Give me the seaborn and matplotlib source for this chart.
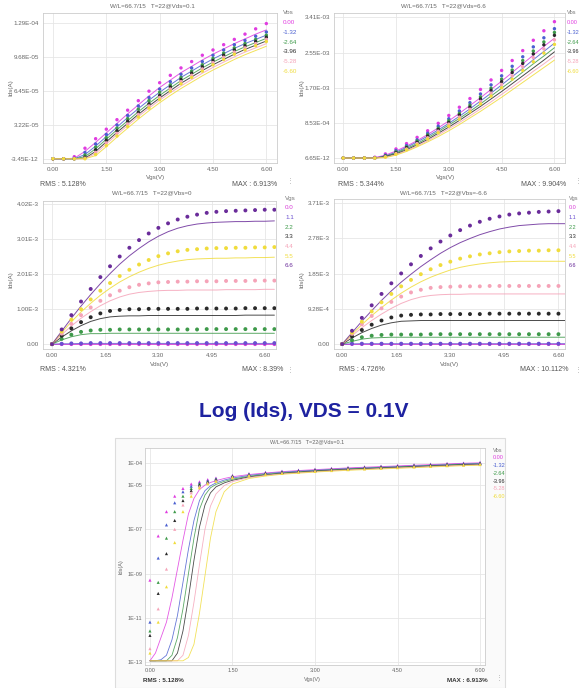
import numpy as np
import pandas as pd
import matplotlib.pyplot as plt
from matplotlib.patches import Rectangle
import seaborn as sns

sns.set_style("white")
plt.rcParams['font.family'] = ['Liberation Sans', 'DejaVu Sans']

W, H = 582, 688

# ---- legends / colours ----
VBS_LABELS = ["0.00", "-1.32", "-2.64", "-3.96", "-5.28", "-6.60"]
VGS_LABELS = ["0.0", "1.1", "2.2", "3.3", "4.4", "5.5", "6.6"]
VBS_COLORS = ['#e03ce0', '#4a5fd0', '#3e9a4a', '#2a2a2a', '#f5a3b8', '#f0dc3c']
VGS_COLORS = ['#d83cd8', '#6a4fd0', '#3e9a4a', '#2a2a2a', '#f5a3b8', '#f0dc3c', '#6a2c9a']

# ---- panel 1 : Ids-Vgs, Vds=0.1 (x1e-5 A) ----
P1_VGS = [0.0, 0.3, 0.6, 0.9, 1.2, 1.5, 1.8, 2.1, 2.4, 2.7, 3.0,
          3.3, 3.6, 3.9, 4.2, 4.5, 4.8, 5.1, 5.4, 5.7, 6.0]
P1_MEAS = [
    [0, 0, 0.2, 1.0, 1.9, 2.8, 3.7, 4.6, 5.5, 6.4, 7.2, 7.9, 8.6, 9.2, 9.8, 10.3, 10.8, 11.3, 11.8, 12.3, 12.8],
    [0, 0, 0.05, 0.6, 1.4, 2.3, 3.2, 4.1, 5.0, 5.8, 6.6, 7.3, 8.0, 8.6, 9.2, 9.8, 10.3, 10.8, 11.2, 11.6, 12.0],
    [0, 0, 0, 0.35, 1.1, 2.0, 2.9, 3.8, 4.7, 5.5, 6.3, 7.0, 7.7, 8.3, 8.9, 9.5, 10.0, 10.5, 10.9, 11.3, 11.7],
    [0, 0, 0, 0.15, 0.85, 1.75, 2.65, 3.55, 4.4, 5.2, 6.0, 6.8, 7.5, 8.1, 8.7, 9.3, 9.8, 10.3, 10.7, 11.1, 11.5],
    [0, 0, 0, 0.05, 0.6, 1.5, 2.4, 3.3, 4.2, 5.0, 5.8, 6.6, 7.3, 7.9, 8.5, 9.1, 9.6, 10.1, 10.5, 10.9, 11.3],
    [0, 0, 0, 0, 0.4, 1.25, 2.15, 3.05, 3.95, 4.8, 5.6, 6.4, 7.1, 7.7, 8.3, 8.9, 9.4, 9.9, 10.3, 10.7, 11.1],
]
P1_SIM = [
    [0, 0, 0.05, 0.7, 1.55, 2.45, 3.35, 4.25, 5.1, 5.95, 6.75, 7.45, 8.15, 8.75, 9.35, 9.9, 10.4, 10.9, 11.35, 11.8, 12.2],
    [0, 0, 0, 0.4, 1.2, 2.1, 3.0, 3.9, 4.75, 5.55, 6.3, 7.0, 7.7, 8.3, 8.9, 9.45, 9.95, 10.45, 10.9, 11.3, 11.7],
    [0, 0, 0, 0.2, 0.95, 1.85, 2.75, 3.6, 4.45, 5.25, 6.0, 6.7, 7.4, 8.0, 8.6, 9.15, 9.65, 10.15, 10.6, 11.0, 11.4],
    [0, 0, 0, 0.05, 0.7, 1.6, 2.5, 3.35, 4.2, 5.0, 5.75, 6.45, 7.15, 7.75, 8.35, 8.9, 9.4, 9.9, 10.35, 10.75, 11.15],
    [0, 0, 0, 0, 0.5, 1.4, 2.3, 3.15, 4.0, 4.8, 5.55, 6.25, 6.9, 7.5, 8.1, 8.65, 9.15, 9.65, 10.1, 10.5, 10.9],
    [0, 0, 0, 0, 0.3, 1.15, 2.05, 2.9, 3.75, 4.55, 5.3, 6.0, 6.65, 7.25, 7.85, 8.4, 8.9, 9.4, 9.85, 10.25, 10.65],
]
P1_YTICKS = [-3.45e-12, 3.22e-5, 6.45e-5, 9.68e-5, 1.29e-4]
P1_YLABELS = ["-3.45E-12", "3.22E-05", "6.45E-05", "9.68E-05", "1.29E-04"]

# ---- panel 2 : Ids-Vgs, Vds=6.6 (x1e-3 A) ----
P2_VGS = P1_VGS
P2_MEAS = [
    [0, 0, 0, 0.02, 0.1, 0.22, 0.35, 0.5, 0.66, 0.84, 1.03, 1.23, 1.44, 1.66, 1.89, 2.12, 2.36, 2.6, 2.85, 3.08, 3.3],
    [0, 0, 0, 0.01, 0.07, 0.18, 0.3, 0.44, 0.6, 0.77, 0.95, 1.14, 1.34, 1.55, 1.77, 1.99, 2.22, 2.45, 2.69, 2.91, 3.13],
    [0, 0, 0, 0, 0.05, 0.15, 0.27, 0.41, 0.56, 0.72, 0.9, 1.08, 1.28, 1.48, 1.69, 1.91, 2.13, 2.36, 2.59, 2.81, 3.04],
    [0, 0, 0, 0, 0.04, 0.13, 0.25, 0.38, 0.53, 0.69, 0.86, 1.04, 1.23, 1.43, 1.64, 1.85, 2.07, 2.29, 2.52, 2.74, 2.97],
    [0, 0, 0, 0, 0.03, 0.11, 0.22, 0.35, 0.49, 0.65, 0.82, 0.99, 1.18, 1.37, 1.57, 1.78, 1.99, 2.21, 2.43, 2.64, 2.86],
    [0, 0, 0, 0, 0.02, 0.09, 0.2, 0.32, 0.46, 0.61, 0.77, 0.94, 1.12, 1.31, 1.5, 1.7, 1.91, 2.12, 2.33, 2.54, 2.75],
]
P2_SIM = [
    [0, 0, 0, 0.01, 0.07, 0.17, 0.29, 0.42, 0.57, 0.73, 0.9, 1.08, 1.27, 1.46, 1.66, 1.86, 2.07, 2.28, 2.49, 2.7, 2.9],
    [0, 0, 0, 0, 0.05, 0.14, 0.26, 0.39, 0.53, 0.68, 0.84, 1.01, 1.19, 1.38, 1.57, 1.77, 1.97, 2.17, 2.38, 2.58, 2.78],
    [0, 0, 0, 0, 0.04, 0.12, 0.23, 0.35, 0.49, 0.64, 0.8, 0.96, 1.13, 1.31, 1.5, 1.69, 1.88, 2.08, 2.28, 2.47, 2.67],
    [0, 0, 0, 0, 0.03, 0.1, 0.2, 0.32, 0.45, 0.6, 0.75, 0.91, 1.08, 1.25, 1.43, 1.61, 1.8, 1.99, 2.18, 2.37, 2.57],
    [0, 0, 0, 0, 0.02, 0.08, 0.18, 0.29, 0.42, 0.56, 0.71, 0.86, 1.02, 1.19, 1.36, 1.54, 1.72, 1.91, 2.1, 2.28, 2.47],
    [0, 0, 0, 0, 0.01, 0.07, 0.16, 0.27, 0.39, 0.52, 0.66, 0.81, 0.97, 1.13, 1.3, 1.47, 1.65, 1.83, 2.01, 2.19, 2.37],
]
P2_YTICKS = [6.65e-12, 8.53e-4, 1.70e-3, 2.55e-3, 3.41e-3]
P2_YLABELS = ["6.65E-12", "8.53E-04", "1.70E-03", "2.55E-03", "3.41E-03"]

# ---- panel 3 : Ids-Vds, Vbs=0 (x1e-3 A) ----
P3_VDS = [0.0, 0.3, 0.6, 0.9, 1.2, 1.5, 1.8, 2.1, 2.4, 2.7, 3.0, 3.3,
          3.6, 3.9, 4.2, 4.5, 4.8, 5.1, 5.4, 5.7, 6.0, 6.3, 6.6, 6.9]
P3_MEAS = [
    [0, 0, 0, 0, 0, 0, 0, 0, 0, 0, 0, 0, 0, 0, 0, 0, 0, 0, 0, 0, 0, 0, 0, 0],
    [0, 0.01, 0.02, 0.02, 0.03, 0.03, 0.03, 0.03, 0.03, 0.03, 0.03, 0.03, 0.03, 0.03, 0.03, 0.03, 0.03, 0.03, 0.03, 0.03, 0.03, 0.03, 0.03, 0.03],
    [0, 0.15, 0.27, 0.35, 0.39, 0.41, 0.41, 0.42, 0.42, 0.42, 0.42, 0.42, 0.42, 0.42, 0.42, 0.42, 0.43, 0.43, 0.43, 0.43, 0.43, 0.43, 0.43, 0.43],
    [0, 0.24, 0.45, 0.63, 0.77, 0.88, 0.95, 0.98, 1.0, 1.0, 1.01, 1.01, 1.01, 1.01, 1.01, 1.02, 1.02, 1.02, 1.02, 1.02, 1.03, 1.03, 1.03, 1.03],
    [0, 0.3, 0.58, 0.83, 1.05, 1.24, 1.4, 1.53, 1.63, 1.7, 1.74, 1.77, 1.78, 1.79, 1.79, 1.8, 1.8, 1.8, 1.81, 1.81, 1.81, 1.82, 1.82, 1.82],
    [0, 0.36, 0.7, 1.0, 1.28, 1.53, 1.75, 1.95, 2.13, 2.28, 2.41, 2.52, 2.6, 2.66, 2.7, 2.72, 2.74, 2.75, 2.75, 2.76, 2.76, 2.77, 2.77, 2.78],
    [0, 0.42, 0.83, 1.22, 1.58, 1.92, 2.23, 2.51, 2.76, 2.98, 3.17, 3.33, 3.46, 3.57, 3.65, 3.71, 3.76, 3.79, 3.81, 3.82, 3.83, 3.84, 3.85, 3.85],
]
P3_SIM = [
    [0, 0, 0, 0, 0, 0, 0, 0, 0, 0, 0, 0, 0, 0, 0, 0, 0, 0, 0, 0, 0, 0, 0, 0],
    [0, 0.01, 0.01, 0.02, 0.02, 0.02, 0.02, 0.02, 0.02, 0.02, 0.02, 0.02, 0.02, 0.02, 0.02, 0.02, 0.02, 0.02, 0.02, 0.02, 0.02, 0.02, 0.02, 0.02],
    [0, 0.12, 0.21, 0.27, 0.3, 0.3, 0.31, 0.31, 0.31, 0.31, 0.31, 0.31, 0.31, 0.31, 0.31, 0.31, 0.31, 0.31, 0.31, 0.31, 0.31, 0.31, 0.31, 0.31],
    [0, 0.2, 0.38, 0.53, 0.65, 0.73, 0.78, 0.8, 0.81, 0.81, 0.82, 0.82, 0.82, 0.82, 0.82, 0.82, 0.82, 0.82, 0.82, 0.82, 0.83, 0.83, 0.83, 0.83],
    [0, 0.27, 0.52, 0.74, 0.93, 1.1, 1.24, 1.35, 1.43, 1.48, 1.51, 1.53, 1.54, 1.54, 1.55, 1.55, 1.55, 1.55, 1.56, 1.56, 1.56, 1.56, 1.57, 1.57],
    [0, 0.33, 0.64, 0.92, 1.17, 1.4, 1.6, 1.78, 1.93, 2.06, 2.17, 2.26, 2.33, 2.38, 2.42, 2.44, 2.45, 2.46, 2.46, 2.47, 2.47, 2.48, 2.48, 2.49],
    [0, 0.37, 0.74, 1.09, 1.42, 1.73, 2.02, 2.29, 2.53, 2.74, 2.93, 3.09, 3.22, 3.32, 3.39, 3.44, 3.47, 3.49, 3.5, 3.51, 3.51, 3.52, 3.52, 3.53],
]
P3_YTICKS = [0.0, 1.005e-3, 2.01e-3, 3.015e-3, 4.02e-3]
P3_YLABELS = ["0.00", "1.00E-3", "2.01E-3", "3.01E-3", "4.02E-3"]

# ---- panel 4 : Ids-Vds, Vbs=-6.6 (x1e-3 A) ----
P4_VDS = P3_VDS
P4_MEAS = [
    [0, 0, 0, 0, 0, 0, 0, 0, 0, 0, 0, 0, 0, 0, 0, 0, 0, 0, 0, 0, 0, 0, 0, 0],
    [0, 0.01, 0.01, 0.01, 0.01, 0.01, 0.01, 0.01, 0.01, 0.01, 0.01, 0.01, 0.01, 0.01, 0.01, 0.01, 0.01, 0.01, 0.01, 0.01, 0.01, 0.01, 0.01, 0.01],
    [0, 0.1, 0.18, 0.22, 0.24, 0.25, 0.25, 0.25, 0.25, 0.26, 0.26, 0.26, 0.26, 0.26, 0.26, 0.26, 0.26, 0.26, 0.26, 0.26, 0.26, 0.26, 0.26, 0.26],
    [0, 0.2, 0.37, 0.51, 0.62, 0.7, 0.75, 0.77, 0.78, 0.78, 0.79, 0.79, 0.79, 0.79, 0.79, 0.8, 0.8, 0.8, 0.8, 0.8, 0.8, 0.8, 0.8, 0.8],
    [0, 0.27, 0.52, 0.74, 0.94, 1.11, 1.25, 1.36, 1.43, 1.48, 1.5, 1.51, 1.52, 1.52, 1.52, 1.53, 1.53, 1.53, 1.53, 1.53, 1.53, 1.53, 1.53, 1.53],
    [0, 0.3, 0.59, 0.86, 1.1, 1.32, 1.52, 1.69, 1.84, 1.97, 2.08, 2.17, 2.25, 2.31, 2.36, 2.39, 2.42, 2.44, 2.45, 2.46, 2.46, 2.47, 2.47, 2.47],
    [0, 0.35, 0.69, 1.02, 1.32, 1.6, 1.86, 2.1, 2.32, 2.52, 2.7, 2.86, 3.0, 3.12, 3.22, 3.3, 3.36, 3.41, 3.44, 3.46, 3.48, 3.49, 3.5, 3.51],
]
P4_SIM = [
    [0, 0, 0, 0, 0, 0, 0, 0, 0, 0, 0, 0, 0, 0, 0, 0, 0, 0, 0, 0, 0, 0, 0, 0],
    [0, 0.005, 0.01, 0.01, 0.01, 0.01, 0.01, 0.01, 0.01, 0.01, 0.01, 0.01, 0.01, 0.01, 0.01, 0.01, 0.01, 0.01, 0.01, 0.01, 0.01, 0.01, 0.01, 0.01],
    [0, 0.07, 0.13, 0.16, 0.17, 0.18, 0.18, 0.18, 0.18, 0.18, 0.18, 0.18, 0.18, 0.18, 0.18, 0.18, 0.18, 0.18, 0.18, 0.18, 0.18, 0.18, 0.18, 0.18],
    [0, 0.16, 0.3, 0.41, 0.5, 0.56, 0.6, 0.61, 0.62, 0.62, 0.62, 0.62, 0.62, 0.62, 0.62, 0.62, 0.62, 0.62, 0.62, 0.62, 0.62, 0.62, 0.62, 0.62],
    [0, 0.22, 0.43, 0.62, 0.79, 0.94, 1.07, 1.17, 1.24, 1.28, 1.3, 1.31, 1.31, 1.32, 1.32, 1.32, 1.32, 1.32, 1.32, 1.32, 1.32, 1.32, 1.32, 1.32],
    [0, 0.26, 0.51, 0.75, 0.96, 1.16, 1.34, 1.5, 1.64, 1.76, 1.86, 1.95, 2.02, 2.07, 2.11, 2.14, 2.16, 2.17, 2.18, 2.18, 2.18, 2.18, 2.18, 2.18],
    [0, 0.3, 0.6, 0.88, 1.15, 1.4, 1.63, 1.84, 2.04, 2.22, 2.39, 2.54, 2.67, 2.78, 2.88, 2.96, 3.03, 3.08, 3.12, 3.14, 3.16, 3.17, 3.17, 3.17],
]
P4_YTICKS = [0.0, 0.928e-3, 1.855e-3, 2.783e-3, 3.71e-3]
P4_YLABELS = ["0.00", "9.28E-4", "1.85E-3", "2.78E-3", "3.71E-3"]

# ---- panel 5 : log10(Ids)-Vgs, Vds=0.1 ----
P5_VGS_MEAS = [0.0, 0.15, 0.3, 0.45, 0.6, 0.75, 0.9, 1.05, 1.2, 1.5, 1.8, 2.1, 2.4,
               2.7, 3.0, 3.3, 3.6, 3.9, 4.2, 4.5, 4.8, 5.1, 5.4, 5.7, 6.0]
P5_LOG_MEAS = [
    [-9.3, -7.3, -6.2, -5.5, -5.15, -4.95, -4.85, -4.75, -4.68, -4.56, -4.48, -4.42, -4.37, -4.32, -4.28, -4.24, -4.2, -4.17, -4.14, -4.11, -4.08, -4.05, -4.02, -4.0, -3.97],
    [-11.2, -8.3, -6.8, -5.8, -5.3, -5.05, -4.9, -4.8, -4.71, -4.58, -4.5, -4.44, -4.39, -4.34, -4.3, -4.26, -4.22, -4.19, -4.16, -4.13, -4.1, -4.07, -4.04, -4.02, -3.99],
    [-11.6, -9.4, -7.4, -6.2, -5.5, -5.15, -4.95, -4.84, -4.74, -4.6, -4.52, -4.46, -4.41, -4.36, -4.32, -4.28, -4.24, -4.21, -4.18, -4.15, -4.12, -4.09, -4.06, -4.04, -4.01],
    [-11.8, -9.9, -8.1, -6.6, -5.7, -5.25, -5.0, -4.87, -4.77, -4.62, -4.54, -4.48, -4.43, -4.38, -4.34, -4.3, -4.26, -4.23, -4.2, -4.17, -4.14, -4.11, -4.08, -4.06, -4.03],
    [-12.4, -10.6, -8.8, -7.0, -5.9, -5.35, -5.06, -4.9, -4.8, -4.64, -4.56, -4.5, -4.45, -4.4, -4.36, -4.32, -4.28, -4.25, -4.22, -4.19, -4.16, -4.13, -4.1, -4.08, -4.05],
    [-12.6, -11.2, -9.6, -7.6, -6.2, -5.5, -5.12, -4.94, -4.83, -4.66, -4.58, -4.52, -4.47, -4.42, -4.38, -4.34, -4.3, -4.27, -4.24, -4.21, -4.18, -4.15, -4.12, -4.1, -4.07],
]
P5_VGS_SIM = [0.0, 0.1, 0.2, 0.3, 0.4, 0.5, 0.6, 0.7, 0.8, 0.9, 1.0, 1.1, 1.2, 1.35, 1.5,
              1.8, 2.1, 2.4, 2.7, 3.0, 3.3, 3.6, 3.9, 4.2, 4.5, 4.8, 5.1, 5.4, 5.7, 6.0]
P5_LOG_SIM = [
    [-12.95, -12.6, -11.9, -11.2, -10.1, -8.8, -7.5, -6.3, -5.6, -5.2, -5.0, -4.88, -4.8, -4.7, -4.62, -4.52, -4.45, -4.39, -4.34, -4.3, -4.26, -4.22, -4.19, -4.16, -4.13, -4.1, -4.07, -4.04, -4.01, -3.99],
    [-12.95, -12.95, -12.9, -12.7, -12.0, -10.9, -9.4, -7.9, -6.6, -5.7, -5.25, -5.03, -4.9, -4.77, -4.68, -4.56, -4.48, -4.42, -4.37, -4.33, -4.29, -4.25, -4.22, -4.19, -4.16, -4.13, -4.1, -4.07, -4.04, -4.02],
    [-12.95, -12.95, -12.95, -12.95, -12.7, -11.9, -10.6, -9.0, -7.4, -6.1, -5.45, -5.12, -4.97, -4.83, -4.73, -4.6, -4.51, -4.45, -4.4, -4.35, -4.31, -4.27, -4.24, -4.21, -4.18, -4.15, -4.12, -4.09, -4.06, -4.04],
    [-12.95, -12.95, -12.95, -12.95, -12.95, -12.6, -11.6, -10.1, -8.4, -6.9, -5.9, -5.35, -5.08, -4.9, -4.78, -4.63, -4.54, -4.47, -4.42, -4.37, -4.33, -4.29, -4.26, -4.23, -4.2, -4.17, -4.14, -4.11, -4.08, -4.06],
    [-12.95, -12.95, -12.95, -12.95, -12.95, -12.95, -12.7, -11.8, -10.3, -8.6, -7.0, -5.95, -5.4, -5.02, -4.84, -4.66, -4.56, -4.49, -4.44, -4.39, -4.35, -4.31, -4.28, -4.25, -4.22, -4.19, -4.16, -4.13, -4.1, -4.08],
    [-12.95, -12.95, -12.95, -12.95, -12.95, -12.95, -12.95, -12.8, -12.2, -10.8, -9.1, -7.4, -6.2, -5.3, -4.95, -4.7, -4.59, -4.51, -4.46, -4.41, -4.37, -4.33, -4.3, -4.27, -4.24, -4.21, -4.18, -4.15, -4.12, -4.1],
]
P5_YTICKS = [1e-4, 1e-5, 1e-7, 1e-9, 1e-11, 1e-13]
P5_YLABELS = ["1E-04", "1E-05", "1E-07", "1E-09", "1E-11", "1E-13"]

VGS_TICKS = [0.0, 1.5, 3.0, 4.5, 6.0]
VGS_TICKLABELS = ["0.00", "1.50", "3.00", "4.50", "6.00"]
VDS_TICKS = [0.0, 1.65, 3.3, 4.95, 6.6]
VDS_TICKLABELS = ["0.00", "1.65", "3.30", "4.95", "6.60"]

fig = plt.figure(figsize=(W / 100, H / 100), dpi=100)
fig.patch.set_facecolor('white')


def px_rect(l, t, r, b):
    return [l / W, 1 - b / H, (r - l) / W, (b - t) / H]


def px_text(x, y, s, **kw):
    kw.setdefault('va', 'center')
    fig.text(x / W, 1 - y / H, s, **kw)


def long_df(x, curves, labels, scale):
    df = pd.DataFrame({lab: np.asarray(v, dtype=float) * scale for lab, v in zip(labels, curves)})
    df["x"] = x
    return df.melt(id_vars="x", var_name="curve", value_name="y")


def panel(box, x_m, meas, x_s, sim, labels, colors, scale, ms=6, marker='o',
          log=False, lw=0.7):
    ax = fig.add_axes(px_rect(*box))
    pal = dict(zip(labels, colors))
    sns.lineplot(data=long_df(x_s, sim, labels, scale), x="x", y="y", hue="curve",
                 palette=pal, legend=False, ax=ax, linewidth=lw, alpha=0.85)
    sns.scatterplot(data=long_df(x_m, meas, labels, scale), x="x", y="y", hue="curve",
                    palette=pal, legend=False, ax=ax, s=ms, marker=marker,
                    linewidth=0, zorder=3)
    if log:
        ax.set_yscale('log')
    ax.set_facecolor('white')
    ax.grid(True, color='#e6e6e6', linewidth=0.6)
    for sp in ax.spines.values():
        sp.set_color('#cccccc')
        sp.set_linewidth(0.6)
    ax.tick_params(length=0, labelsize=4.5, labelcolor='#666666', pad=3)
    ax.minorticks_off()
    ax.set_xlabel('')
    ax.set_ylabel('')
    return ax


def legend_block(x, y0, dy, title, labels, colors, size=4.5):
    px_text(x, y0, title, fontsize=size, color='#777777')
    for i, (lab, c) in enumerate(zip(labels, colors)):
        px_text(x, y0 + dy * (i + 1), lab, fontsize=size, color=c)


small = dict(fontsize=4.5, color='#666666')

# panel 5 frame (drawn beneath everything)
fig.patches.append(Rectangle((115 / W, 0), 390 / W, 250 / H, transform=fig.transFigure,
                             facecolor='#fafafa', edgecolor='#dddddd', linewidth=0.8, zorder=-5))

# panel 1
ax1 = panel((43, 13, 277, 163), P1_VGS, P1_MEAS, P1_VGS, P1_SIM, VBS_LABELS, VBS_COLORS, 1e-5)
ax1.set_xlim(-0.28, 6.3)
ax1.set_ylim(-0.4e-5, 13.8e-5)
ax1.set_xticks(VGS_TICKS, VGS_TICKLABELS)
ax1.set_yticks(P1_YTICKS, P1_YLABELS)
px_text(152, 6, "W/L=66.7/15   T=22@Vds=0.1", ha='center', **small)
px_text(156, 177, "Vgs(V)", ha='center', **small)
px_text(11, 88, "Ids(A)", ha='center', rotation=90, **small)
px_text(40, 184, "RMS : 5.128%", ha='left', fontsize=5, color='#555555')
px_text(277, 184, "MAX : 6.913%", ha='right', fontsize=5, color='#555555')
legend_block(283, 13, 9.7, "Vbs", VBS_LABELS, VBS_COLORS)

# panel 2
ax2 = panel((334, 13, 565, 163), P2_VGS, P2_MEAS, P2_VGS, P2_SIM, VBS_LABELS, VBS_COLORS, 1e-3)
ax2.set_xlim(-0.26, 6.3)
ax2.set_ylim(-0.12e-3, 3.51e-3)
ax2.set_xticks(VGS_TICKS, VGS_TICKLABELS)
ax2.set_yticks(P2_YTICKS, P2_YLABELS)
px_text(443, 6, "W/L=66.7/15   T=22@Vds=6.6", ha='center', **small)
px_text(446, 177, "Vgs(V)", ha='center', **small)
px_text(302, 88, "Ids(A)", ha='center', rotation=90, **small)
px_text(338, 184, "RMS : 5.344%", ha='left', fontsize=5, color='#555555')
px_text(566, 184, "MAX : 9.904%", ha='right', fontsize=5, color='#555555')
legend_block(567, 13, 9.7, "Vbs", VBS_LABELS, VBS_COLORS, size=4)

# panel 3
ax3 = panel((43, 201, 276, 349), P3_VDS, P3_MEAS, P3_VDS, P3_SIM, VGS_LABELS, VGS_COLORS, 1e-3, ms=8)
ax3.set_xlim(-0.28, 6.95)
ax3.set_ylim(-0.14e-3, 4.1e-3)
ax3.set_xticks(VDS_TICKS, VDS_TICKLABELS)
ax3.set_yticks(P3_YTICKS, P3_YLABELS)
px_text(152, 193, "W/L=66.7/15   T=22@Vbs=0", ha='center', **small)
px_text(160, 364, "Vds(V)", ha='center', **small)
px_text(11, 280, "Ids(A)", ha='center', rotation=90, **small)
px_text(40, 370, "RMS : 4.321%", ha='left', fontsize=5, color='#555555')
px_text(283, 370, "MAX : 8.39%", ha='right', fontsize=5, color='#555555')
legend_block(285, 198, 9.7, "Vgs", VGS_LABELS, VGS_COLORS)

# panel 4
ax4 = panel((334, 199, 565, 349), P4_VDS, P4_MEAS, P4_VDS, P4_SIM, VGS_LABELS, VGS_COLORS, 1e-3, ms=8)
ax4.set_xlim(-0.25, 6.8)
ax4.set_ylim(-0.13e-3, 3.82e-3)
ax4.set_xticks(VDS_TICKS, VDS_TICKLABELS)
ax4.set_yticks(P4_YTICKS, P4_YLABELS)
px_text(443, 193, "W/L=66.7/15   T=22@Vbs=-6.6", ha='center', **small)
px_text(450, 364, "Vds(V)", ha='center', **small)
px_text(302, 280, "Ids(A)", ha='center', rotation=90, **small)
px_text(339, 370, "RMS : 4.726%", ha='left', fontsize=5, color='#555555')
px_text(569, 370, "MAX : 10.112%", ha='right', fontsize=5, color='#555555')
legend_block(569, 198, 9.7, "Vgs", VGS_LABELS, VGS_COLORS, size=4)

for xx, yy in [(290, 181), (578, 181), (290, 370), (578, 370), (499, 678)]:
    px_text(xx, yy, "⋮", ha='center', fontsize=5, color='#aaaaaa')

# heading
px_text(304, 412, "Log (Ids), VDS = 0.1V", ha='center', fontsize=15,
        fontweight='bold', color='#1e22a0')

# panel 5
p5_meas = [10.0 ** np.asarray(v) for v in P5_LOG_MEAS]
p5_sim = [10.0 ** np.asarray(v) for v in P5_LOG_SIM]
ax5 = panel((145, 448, 485, 665), P5_VGS_MEAS, p5_meas, P5_VGS_SIM, p5_sim,
            VBS_LABELS, VBS_COLORS, 1.0, ms=5, marker='^', log=True, lw=0.6)
ax5.set_xlim(-0.09, 6.09)
ax5.set_ylim(10 ** -13.14, 10 ** -3.32)
ax5.set_xticks(VGS_TICKS, VGS_TICKLABELS)
ax5.set_yticks(P5_YTICKS, P5_YLABELS)
ax5.minorticks_off()
ax5.tick_params(labelsize=4, pad=2)
px_text(307, 442, "W/L=66.7/15   T=22@Vds=0.1", ha='center', fontsize=4, color='#666666')
px_text(312, 679, "Vgs(V)", ha='center', fontsize=4, color='#666666')
px_text(121, 567, "Ids(A)", ha='center', rotation=90, fontsize=4, color='#666666')
px_text(143, 681, "RMS : 5.128%", ha='left', fontsize=4.5, color='#333333', fontweight='bold')
px_text(488, 681, "MAX : 6.913%", ha='right', fontsize=4.5, color='#333333', fontweight='bold')
legend_block(493, 450, 7.8, "Vbs", VBS_LABELS, VBS_COLORS, size=4)

fig.savefig("out.png", dpi=100)
